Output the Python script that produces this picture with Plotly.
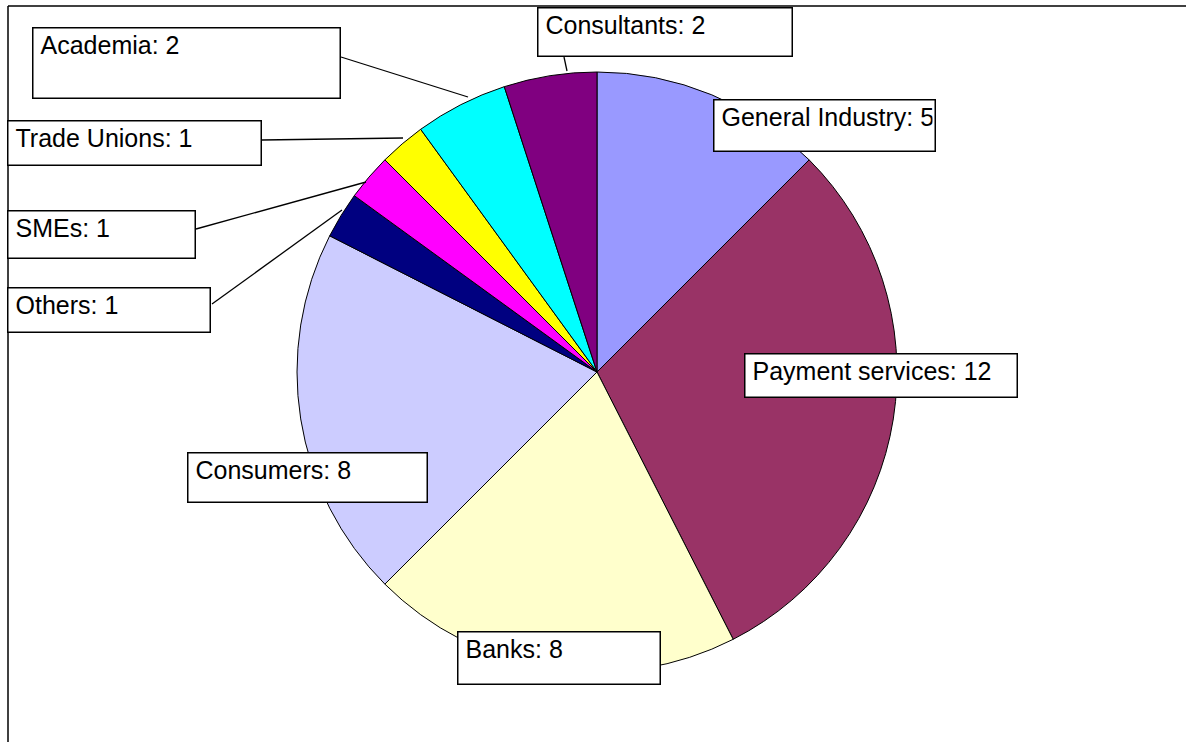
import plotly.graph_objects as go

W, H = 1186, 742

categories = ["General Industry", "Payment services", "Banks", "Consumers", "Others",
              "SMEs", "Trade Unions", "Academia", "Consultants"]
values = [5, 12, 8, 8, 1, 1, 1, 2, 2]
colors = ["#9999FF", "#993366", "#FFFFCC", "#CCCCFF", "#000080",
          "#FF00FF", "#FFFF00", "#00FFFF", "#800080"]

# label box placement in pixels: (left, top, right, bottom)
boxes = {
    "General Industry": (713, 99, 936, 152),
    "Payment services": (744, 353, 1018, 398),
    "Banks": (457, 631, 661, 685),
    "Consumers": (187, 452, 428, 503),
    "Others": (7, 287, 211, 333),
    "SMEs": (7, 210, 196, 259),
    "Trade Unions": (7, 120, 262, 166),
    "Academia": (32, 27, 341, 99),
    "Consultants": (537, 7, 793, 57),
}
# leader lines in pixels
leaders = [
    ((341, 57), (468, 97)),
    ((262, 140), (403, 138)),
    ((196, 229), (366, 182)),
    ((212, 304), (342, 210)),
    ((564, 57), (567, 71)),
]

def px(x):
    return x / W

def py(y):
    return 1 - y / H

cx, cy, r = 597, 372, 300

fig = go.Figure()
fig.add_trace(go.Pie(
    labels=categories,
    values=values,
    marker=dict(colors=colors, line=dict(color="black", width=1)),
    sort=False,
    direction="clockwise",
    rotation=0,
    textinfo="none",
    hoverinfo="label+value",
    domain=dict(x=[px(cx - r), px(cx + r)], y=[py(cy + r), py(cy - r)]),
    showlegend=False,
))

shapes = [
    dict(type="line", xref="paper", yref="paper", x0=px(8), y0=py(6), x1=1, y1=py(6),
         line=dict(color="black", width=1.5)),
    dict(type="line", xref="paper", yref="paper", x0=px(8), y0=py(6), x1=px(8), y1=0,
         line=dict(color="black", width=1.5)),
]
for (a, b) in leaders:
    shapes.append(dict(type="line", xref="paper", yref="paper",
                       x0=px(a[0]), y0=py(a[1]), x1=px(b[0]), y1=py(b[1]),
                       line=dict(color="black", width=1.3)))

annotations = []
pad = 2
bw = 1.5
for cat, val in zip(categories, values):
    l, t, rr, b = boxes[cat]
    annotations.append(dict(
        xref="paper", yref="paper", x=px(l), y=py(t),
        xanchor="left", yanchor="top",
        text=f"\u2009{cat}: {val}", showarrow=False,
        align="left", valign="top",
        width=rr - l - 2 * pad - 2 * bw, height=b - t - 2 * pad - 2 * bw,
        bgcolor="white", bordercolor="black", borderwidth=bw, borderpad=pad,
        font=dict(family="Liberation Sans, Arial, sans-serif", size=25, color="black"),
    ))

fig.update_layout(
    width=W, height=H,
    margin=dict(l=0, r=0, t=0, b=0),
    paper_bgcolor="white", plot_bgcolor="white",
    shapes=shapes, annotations=annotations,
)

fig.write_html("out.html", config={"displayModeBar": False})
